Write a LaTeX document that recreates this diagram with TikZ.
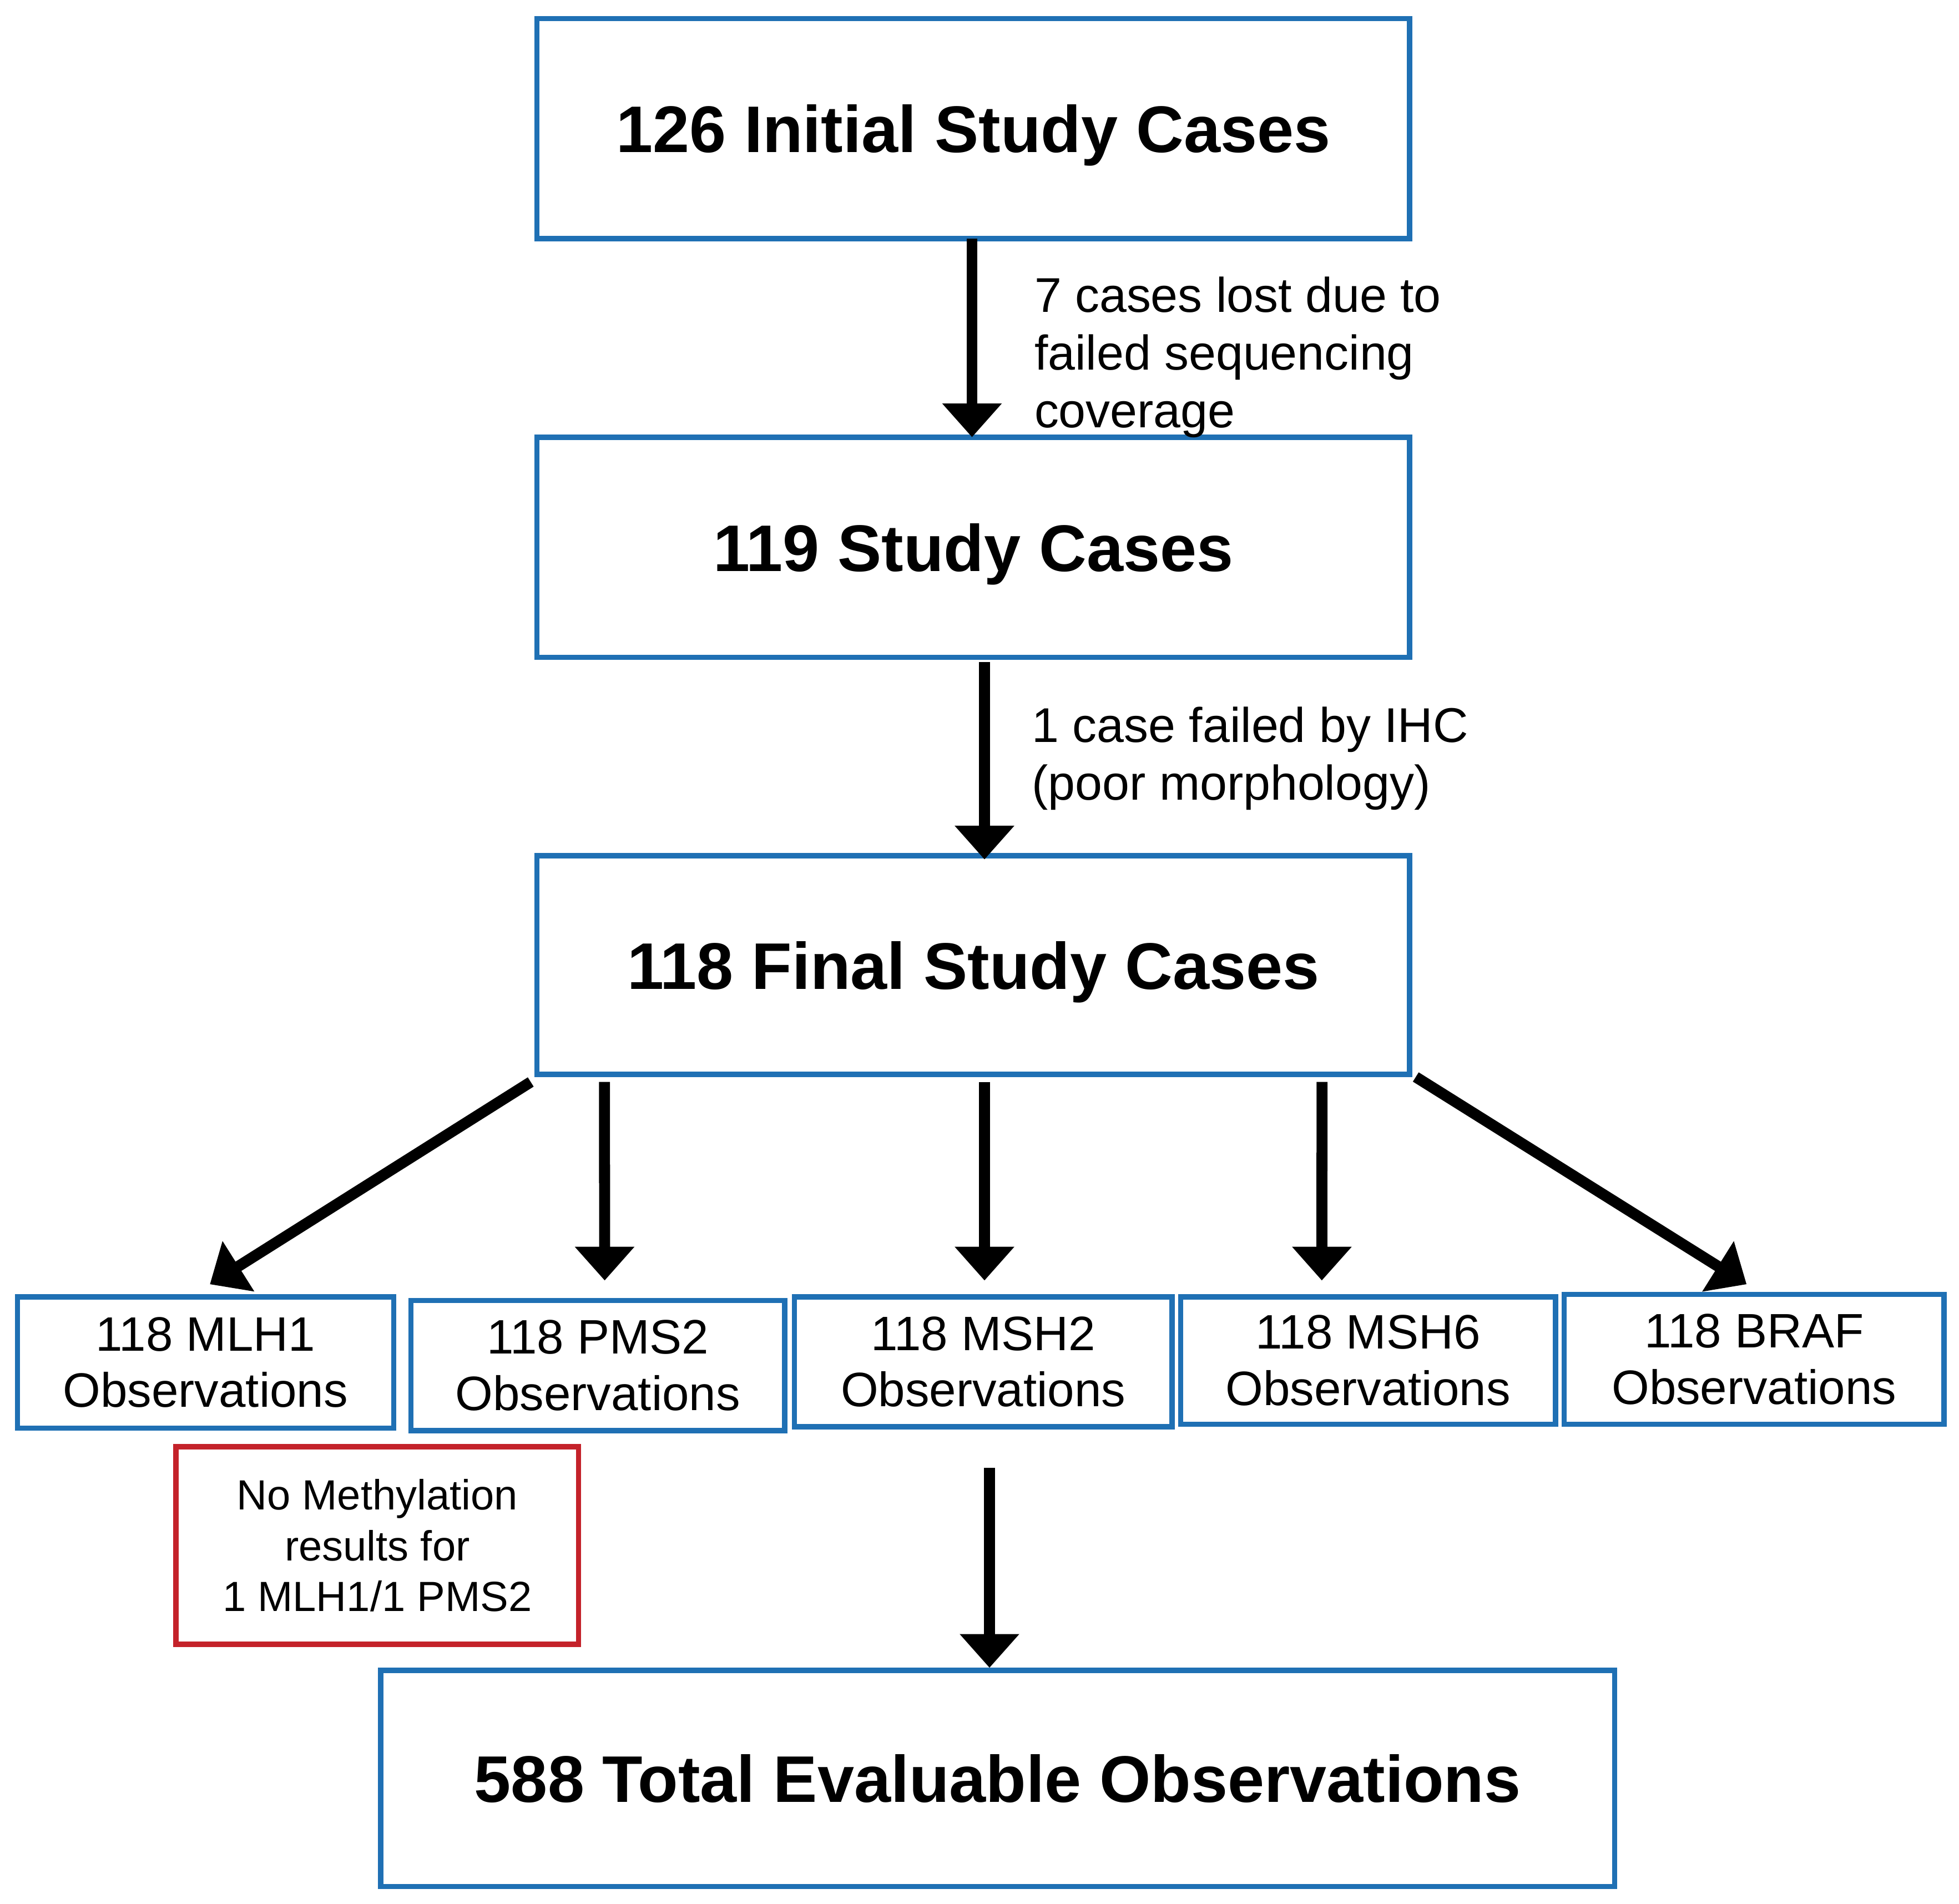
\documentclass[tikz,border=0pt]{standalone}
\usepackage{fontspec}
\setmainfont{Liberation Sans}
\usetikzlibrary{arrows.meta}
\definecolor{boxblue}{RGB}{31,112,180}
\definecolor{boxred}{RGB}{196,34,42}
\begin{document}
\begin{tikzpicture}[x=0.01cm,y=-0.01cm,
  every node/.style={outer sep=0pt},
  bigbox/.style={draw=boxblue,line width=1.2pt,fill=white,inner sep=0pt,text depth=0pt,
    minimum width=6.98cm,font=\fontsize{15}{18}\selectfont\bfseries},
  obsbox/.style={draw=boxblue,line width=1.2pt,fill=white,inner sep=0pt,align=center,
    minimum width=3.0cm,minimum height=1.04cm,font=\fontsize{11}{12.8}\selectfont},
  notebox/.style={draw=boxred,line width=1.2pt,fill=white,inner sep=0pt,align=center,
    font=\fontsize{9.6}{11.5}\selectfont},
  lbl/.style={align=left,inner sep=0pt,anchor=west,font=\fontsize{11.1}{13.1}\selectfont},
  arr/.style={line width=2.5pt,-{Triangle[width=4.6mm,length=2.7mm]}}]
\useasboundingbox[fill=white] (0,0) rectangle (1568,1524);

% main boxes
\node[bigbox,minimum height=1.76cm] (b1) at (779,103) {126 Initial Study Cases};
\node[bigbox,minimum height=1.76cm] (b2) at (779,438) {119 Study Cases};
\node[bigbox,minimum height=1.75cm] (b3) at (779,772.5) {118 Final Study Cases};
\node[bigbox,minimum width=9.87cm,minimum height=1.73cm] (b4) at (798.5,1423.5) {588 Total Evaluable Observations};

% observation boxes
\node[obsbox,minimum width=3.01cm,minimum height=1.05cm] (o1) at (164.5,1090.5) {118 MLH1\\Observations};
\node[obsbox,minimum width=2.99cm,minimum height=1.04cm] (o2) at (478.5,1093) {118 PMS2\\Observations};
\node[obsbox,minimum width=3.02cm,minimum height=1.04cm] (o3) at (787,1090) {118 MSH2\\Observations};
\node[obsbox,minimum width=3.00cm,minimum height=1.02cm] (o4) at (1095,1089) {118 MSH6\\Observations};
\node[obsbox,minimum width=3.04cm,minimum height=1.04cm] (o5) at (1404,1088) {118 BRAF\\Observations};

% note box
\node[notebox,minimum width=3.22cm,minimum height=1.58cm] (n1) at (302,1237) {No Methylation\\results for\\1 MLH1/1 PMS2};

% labels
\node[lbl] (l1) at (828,286) {7 cases lost due to\\failed sequencing\\coverage};
\node[lbl] (l2) at (826,607) {1 case failed by IHC\\(poor morphology)};

% arrows
\draw[arr] ([xshift=-0.01cm]b1.south) -- ([xshift=-0.01cm]b2.north);
\draw[arr] ([shift={(9,4)}]b2.south) -- ([shift={(9,3)}]b3.north);

\draw[arr] ([shift={(-5,6)}]b3.south west) -- ([shift={(3.5,-10)}]o1.north);
\draw[arr] ([shift={(54,6)}]b3.south west) -- ([shift={(5.5,-16)}]o2.north);
\draw[arr] ([shift={(9,6)}]b3.south) -- ([shift={(1,-13)}]o3.north);
\draw[arr] ([shift={(-70,6)}]b3.south east) -- ([shift={(-37,-13)}]o4.north);
\draw[arr] ([shift={(5,2)}]b3.south east) -- ([shift={(-6,-8)}]o5.north);

\draw[arr] ([shift={(5,33)}]o3.south) -- ([shift={(-6.5,-2)}]b4.north);
\end{tikzpicture}
\end{document}
